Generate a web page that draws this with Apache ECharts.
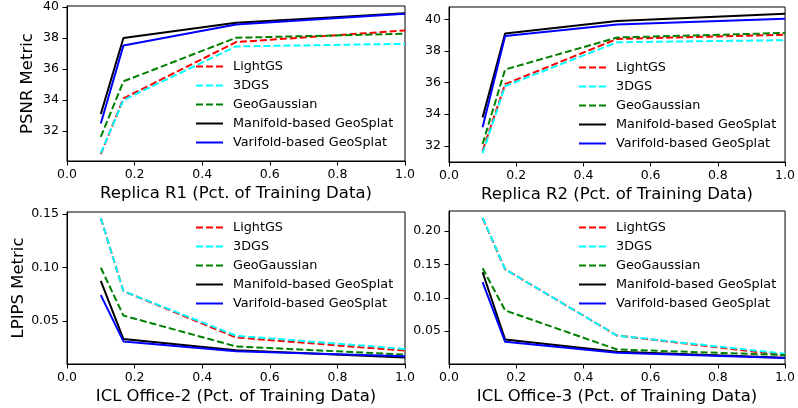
<!DOCTYPE html>
<html><head><meta charset="utf-8">
<script src="https://cdn.jsdelivr.net/npm/echarts@6/dist/echarts.min.js"></script>
<style>html,body{margin:0;padding:0;background:#fff}#c{width:798px;height:408px}</style>
</head><body><div id="c"></div>
<script>
const xVals = [0.1, 0.167, 0.5, 1.0];
const seriesNames = ['LightGS', '3DGS', 'GeoGaussian', 'Manifold-based GeoSplat', 'Varifold-based GeoSplat'];

const r1LightGS = [30.49, 34.09, 37.72, 38.47];
const r1ThreeDGS = [30.55, 33.99, 37.44, 37.61];
const r1GeoGaussian = [31.61, 35.19, 38.0, 38.26];
const r1Manifold = [33.08, 37.98, 38.97, 39.59];
const r1Varifold = [32.47, 37.5, 38.86, 39.55];
const r1Ticks = [32, 34, 36, 38, 40];

const r2LightGS = [31.7, 35.9, 38.76, 39.03];
const r2ThreeDGS = [31.54, 35.78, 38.55, 38.68];
const r2GeoGaussian = [32.12, 36.83, 38.85, 39.14];
const r2Manifold = [33.8, 39.1, 39.9, 40.36];
const r2Varifold = [33.18, 38.95, 39.68, 40.04];
const r2Ticks = [32, 34, 36, 38, 40];

const o2LightGS = [0.1463, 0.0778, 0.0344, 0.022];
const o2ThreeDGS = [0.1463, 0.0778, 0.036, 0.0236];
const o2GeoGaussian = [0.0998, 0.0549, 0.026, 0.0183];
const o2Manifold = [0.0874, 0.0329, 0.0223, 0.0155];
const o2Varifold = [0.0741, 0.0307, 0.0214, 0.0167];
const o2Ticks = [0.05, 0.10, 0.15];

const o3LightGS = [0.219, 0.1426, 0.0435, 0.014];
const o3ThreeDGS = [0.2199, 0.1426, 0.0435, 0.0163];
const o3GeoGaussian = [0.1441, 0.0811, 0.0227, 0.0143];
const o3Manifold = [0.1382, 0.0376, 0.0193, 0.0104];
const o3Varifold = [0.1233, 0.0342, 0.0178, 0.0098];
const o3Ticks = [0.05, 0.10, 0.15, 0.20];

const FONT = 'DejaVu Sans';
const colors = ['#ff0000', '#00ffff', '#008000', '#000000', '#0000ff'];
const dashed = [true, true, true, false, false];

const panels = [
  {grid: {left: 67, top: 6, width: 338, height: 155}, ymin: 30.05, ymax: 40.05, ticks: r1Ticks, dec: 0,
   xname: 'Replica R1 (Pct. of Training Data)', yname: 'PSNR Metric',
   data: [r1LightGS, r1ThreeDGS, r1GeoGaussian, r1Manifold, r1Varifold], legend: {left: 195, top: 60}},
  {grid: {left: 449, top: 7, width: 339, height: 155}, ymin: 30.98, ymax: 40.78, ticks: r2Ticks, dec: 0,
   xname: 'Replica R2 (Pct. of Training Data)', yname: '',
   data: [r2LightGS, r2ThreeDGS, r2GeoGaussian, r2Manifold, r2Varifold], legend: {left: 578, top: 61}},
  {grid: {left: 67, top: 212, width: 338, height: 152}, ymin: 0.0095, ymax: 0.152, ticks: o2Ticks, dec: 2,
   xname: 'ICL Office-2 (Pct. of Training Data)', yname: 'LPIPS Metric',
   data: [o2LightGS, o2ThreeDGS, o2GeoGaussian, o2Manifold, o2Varifold], legend: {left: 195, top: 221}},
  {grid: {left: 449, top: 211, width: 339, height: 153}, ymin: 0.001, ymax: 0.2297, ticks: o3Ticks, dec: 2,
   xname: 'ICL Office-3 (Pct. of Training Data)', yname: '',
   data: [o3LightGS, o3ThreeDGS, o3GeoGaussian, o3Manifold, o3Varifold], legend: {left: 578, top: 221}}
];

const option = {
  animation: false,
  backgroundColor: '#fff',
  textStyle: {fontFamily: FONT},
  grid: [], xAxis: [], yAxis: [], series: [], legend: []
};

panels.forEach((p, i) => {
  option.grid.push(Object.assign({show: true, borderColor: '#000', borderWidth: 1, backgroundColor: 'transparent'}, p.grid));
  option.xAxis.push({
    type: 'value', gridIndex: i, min: 0, max: 1, interval: 0.2,
    name: p.xname, nameLocation: 'middle', nameGap: 24,
    nameTextStyle: {fontSize: 16.5, color: '#000', fontFamily: FONT},
    axisLine: {show: true, lineStyle: {color: '#000', width: 1}},
    axisTick: {show: true, inside: false, length: 4.5, lineStyle: {color: '#000'}},
    axisLabel: {show: true, margin: 7, fontSize: 12.5, color: '#000', fontFamily: FONT,
      formatter: v => v.toFixed(1), showMinLabel: true, showMaxLabel: true},
    splitLine: {show: false}
  });
  option.yAxis.push({
    type: 'value', gridIndex: i, min: p.ymin, max: p.ymax,
    name: p.yname, nameLocation: 'middle', nameGap: 31, nameRotate: 90,
    nameTextStyle: {fontSize: 16.5, color: '#000', fontFamily: FONT},
    axisLine: {show: true, onZero: false, lineStyle: {color: '#000', width: 1}},
    axisTick: {show: true, inside: false, length: 4.5, lineStyle: {color: '#000'}, customValues: p.ticks},
    axisLabel: {show: true, margin: 8, fontSize: 12.5, color: '#000', fontFamily: FONT,
      customValues: p.ticks, formatter: v => Number(v).toFixed(p.dec)},
    splitLine: {show: false}
  });
  p.data.forEach((vals, k) => {
    option.series.push({
      type: 'line', name: seriesNames[k], xAxisIndex: i, yAxisIndex: i,
      data: xVals.map((x, j) => [x, vals[j]]),
      symbol: 'none', showSymbol: false,
      lineStyle: {color: colors[k], width: 2, type: dashed[k] ? [7, 3] : 'solid'},
      itemStyle: {color: colors[k]},
      emphasis: {disabled: true}
    });
  });
  option.legend.push({
    show: true,
    left: p.legend.left, top: p.legend.top, orient: 'vertical', padding: 0,
    itemWidth: 27, itemHeight: 14, itemGap: 6,
    data: seriesNames.slice(),
    itemStyle: {opacity: 0},
    textStyle: {fontSize: 12.8, color: '#000', fontFamily: FONT, padding: [0, 0, 0, 5]},
    selectedMode: false
  });
});

const chart = echarts.init(document.getElementById('c'), null, {renderer: 'canvas'});
chart.setOption(option);
</script>
</body></html>
